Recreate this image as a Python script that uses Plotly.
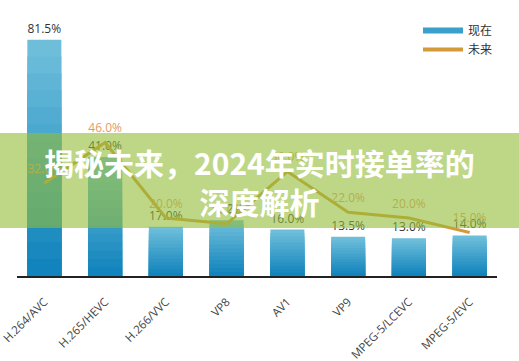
import plotly.graph_objects as go

categories = ["H.264/AVC", "H.265/HEVC", "H.266/VVC", "VP8", "AV1", "VP9", "MPEG-5/LCEVC", "MPEG-5/EVC"]
now_values = [81.5, 41.0, 17.0, 19.2, 16.0, 13.5, 13.0, 14.0]
future_values = [32.0, 46.0, 20.0, 18.0, 36.0, 22.0, 20.0, 15.0]
series_names = ["现在", "未来"]
title_text = "揭秘未来，2024年实时接单率的<br>深度解析"

W, H = 519, 361
ML, MR, MT, MB = 17, 22, 15, 85
plot_w = W - ML - MR
plot_h = H - MT - MB

top_rgb = (110, 190, 218)
bot_rgb = (18, 132, 189)
N = 14

fig = go.Figure()
for k in range(N):
    f = 1 - k / N
    t = k / (N - 1)
    c = tuple(round(top_rgb[i] + (bot_rgb[i] - top_rgb[i]) * t) for i in range(3))
    fig.add_trace(go.Bar(
        x=categories,
        y=[v * f for v in now_values],
        marker=dict(color="rgb(%d,%d,%d)" % c, line=dict(width=0)),
        width=0.56,
        showlegend=False,
        text=[f"{v:.1f}%" for v in now_values] if k == 0 else None,
        textposition="outside" if k == 0 else "none",
        textfont=dict(family="Open Sans, sans-serif", size=12, color="#333333"),
        cliponaxis=False,
        hoverinfo="skip" if k else None,
    ))

fig.add_trace(go.Scatter(
    x=categories,
    y=future_values,
    mode="lines+markers+text",
    name=series_names[1],
    line=dict(color="#d49a3a", width=3),
    marker=dict(size=10, color="rgba(0,0,0,0)"),
    text=[f"{v:.1f}%" for v in future_values],
    textposition="top center",
    textfont=dict(family="Open Sans, sans-serif", size=12, color="#e39a66"),
    cliponaxis=False,
    showlegend=False,
))

# legend entries
fig.add_trace(go.Scatter(x=[None], y=[None], mode="lines", name=series_names[0],
                         line=dict(color="#3a9fcb", width=6)))
fig.add_trace(go.Scatter(x=[None], y=[None], mode="lines", name=series_names[1],
                         line=dict(color="#d49a3a", width=4)))

def py(pix):
    return (H - MB - pix) / plot_h

def px(pix):
    return (pix - ML) / plot_w

fig.add_shape(type="rect", xref="paper", yref="paper",
              x0=px(-5), x1=px(W + 5), y0=py(228), y1=py(133),
              fillcolor="rgba(146,188,55,0.6)", line=dict(width=0), layer="above")

fig.add_annotation(text=title_text, xref="paper", yref="paper",
                   x=px(259.5), y=py(181.5), showarrow=False,
                   xanchor="center", yanchor="middle",
                   font=dict(family="Noto Sans CJK SC", size=30, color="white", weight="bold"))

fig.update_layout(
    width=W, height=H,
    margin=dict(l=ML, r=MR, t=MT, b=MB, autoexpand=False),
    paper_bgcolor="white", plot_bgcolor="white",
    barmode="overlay", bargap=0.44,
    showlegend=True,
    legend=dict(x=px(418), y=py(16), xanchor="left", yanchor="top",
                bgcolor="rgba(0,0,0,0)", itemwidth=40,
                font=dict(family="Noto Sans CJK SC", size=12, color="#333333"),
                tracegroupgap=0),
    xaxis=dict(range=[-0.45, 7.45], showgrid=False, showline=True, linecolor="#222222",
               linewidth=1.5, tickangle=-45, ticks="outside", ticklen=13,
               tickcolor="rgba(0,0,0,0)", automargin=False,
               tickfont=dict(family="Open Sans, sans-serif", size=11.5, color="#444444")),
    yaxis=dict(range=[0, 90], showgrid=False, showticklabels=False, zeroline=False,
               showline=False, automargin=False),
)

fig.write_html("out.html", config={"displayModeBar": False},
               post_script="document.body.style.margin='0';document.body.style.overflow='hidden';")
